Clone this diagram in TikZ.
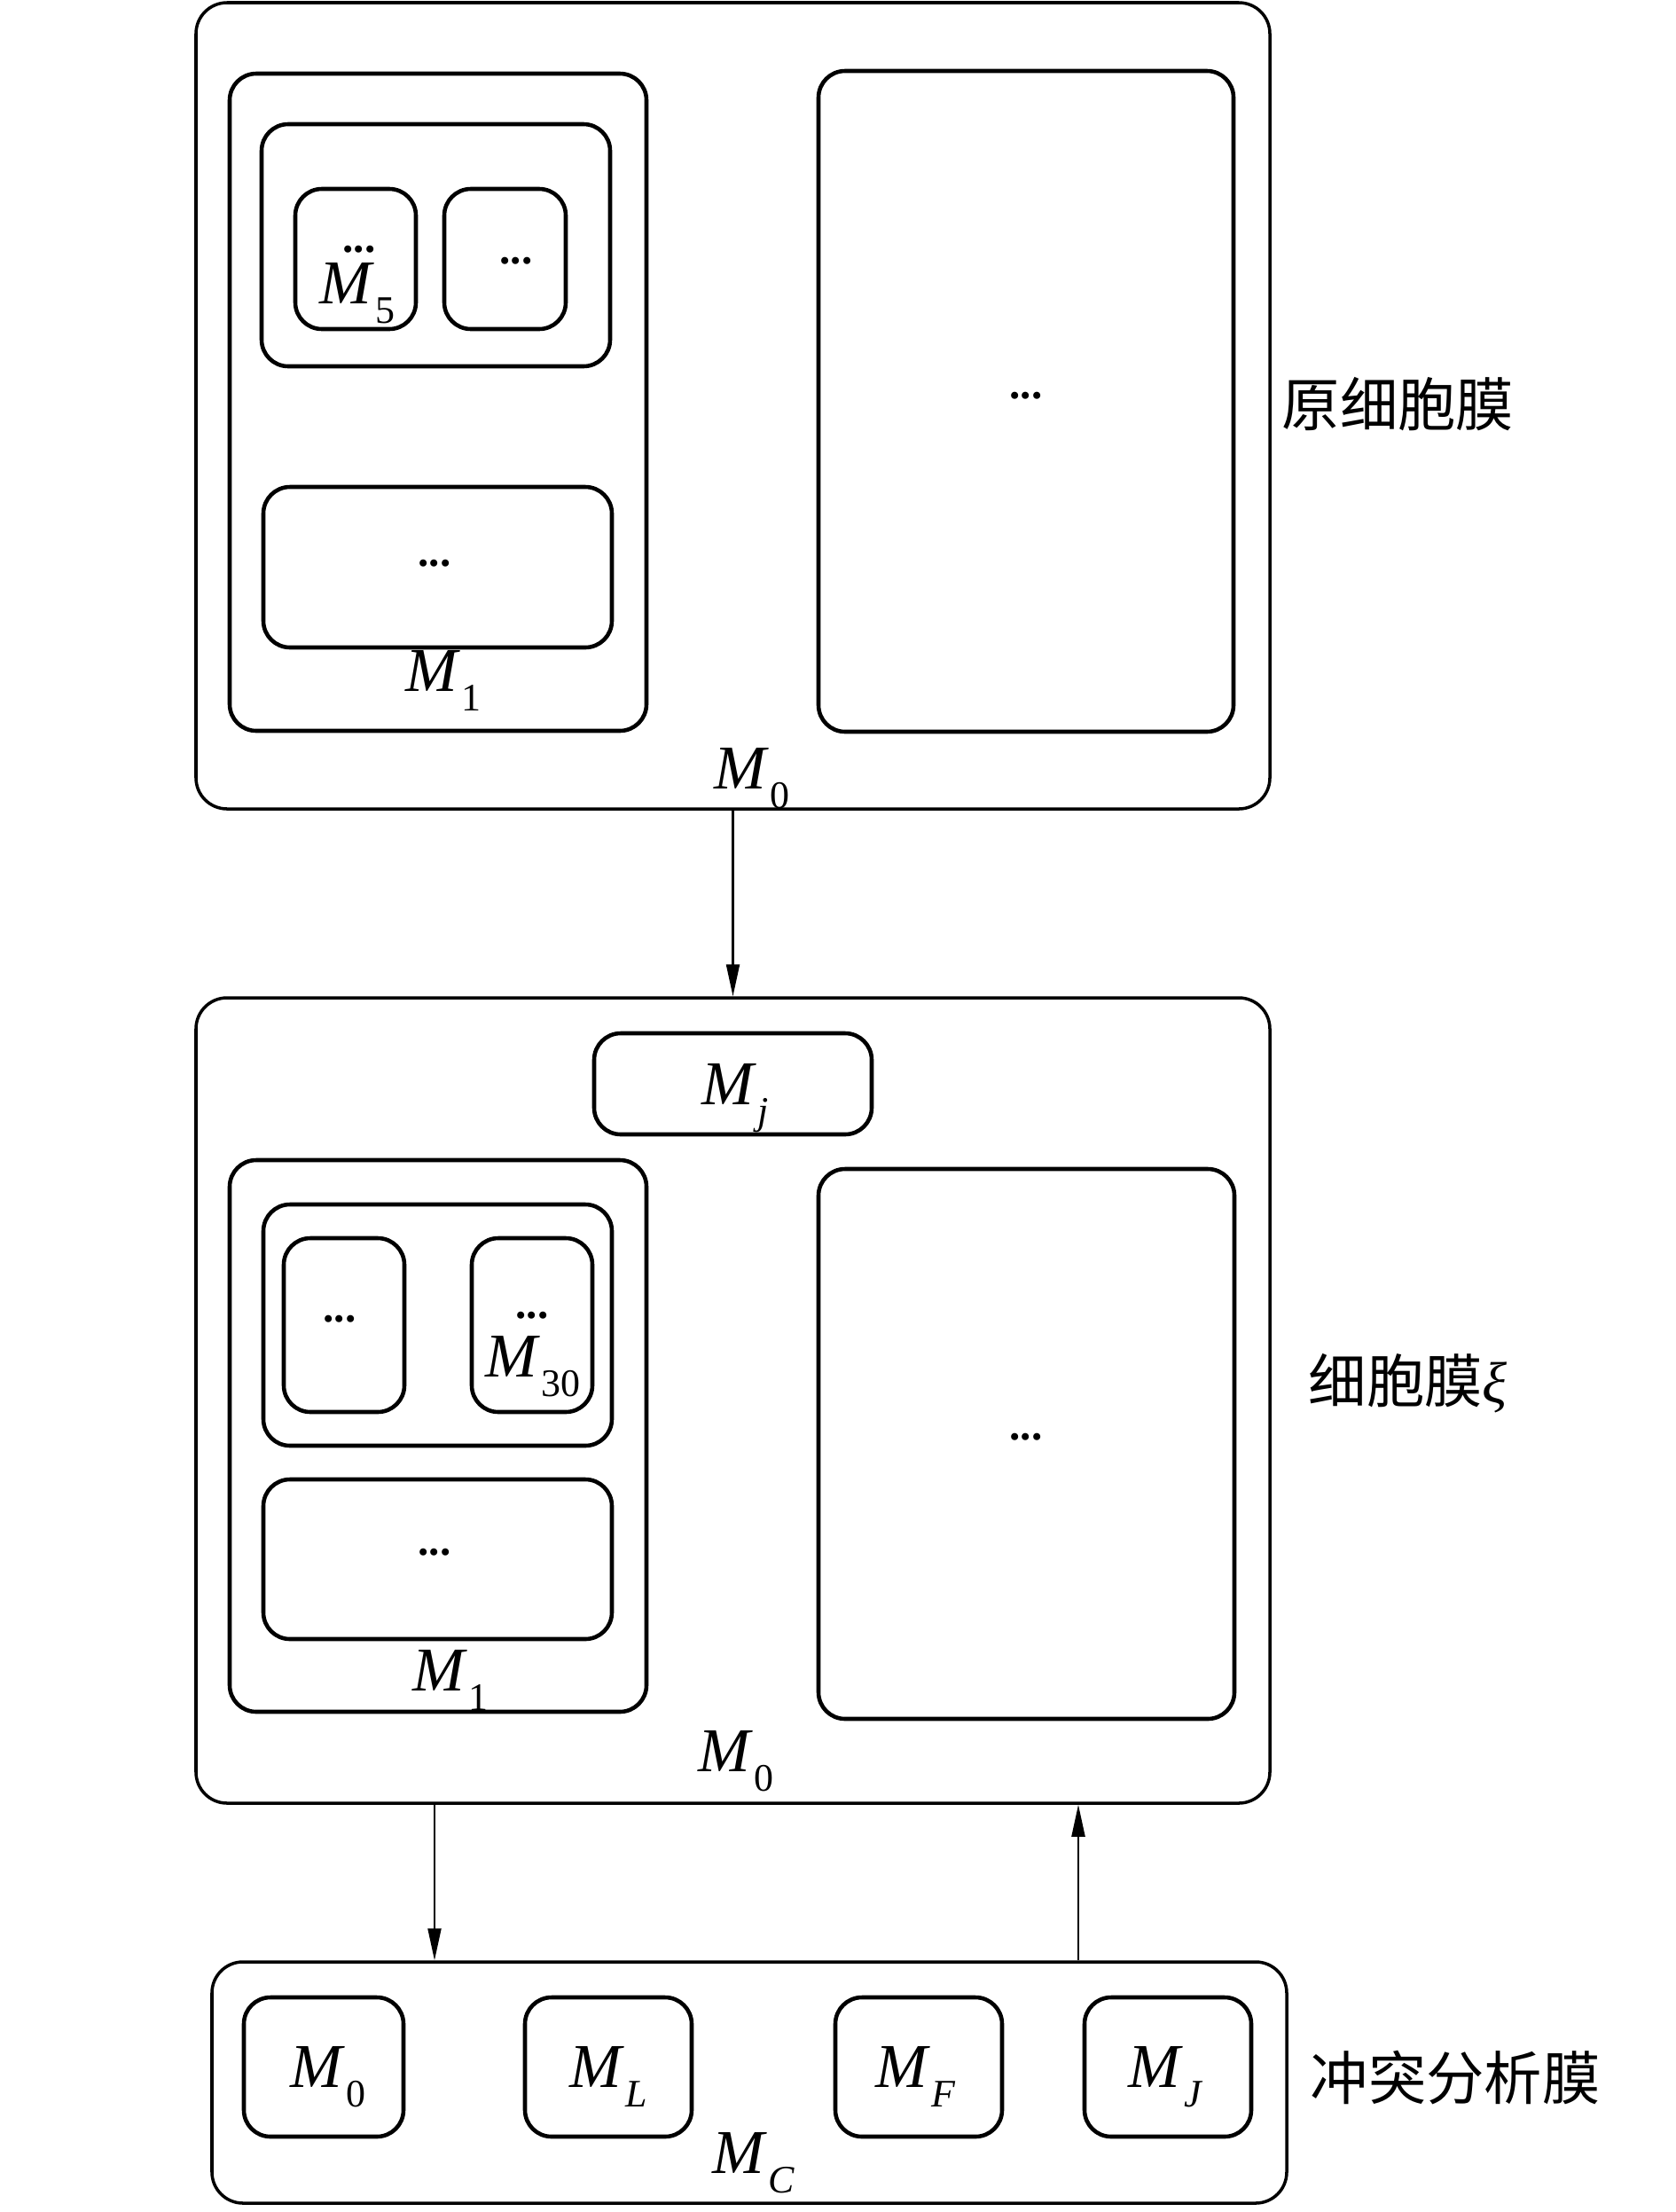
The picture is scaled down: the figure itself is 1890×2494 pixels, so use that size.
\documentclass[tikz,border=0pt]{standalone}
\usepackage{fontspec}
\setmainfont{Liberation Serif}
\newfontfamily\cjk{Noto Sans CJK SC}
\usetikzlibrary{arrows.meta}
\newcommand\Ms[1]{\textit{M}\kern0.3pt\raisebox{-6.5pt}{\fontsize{12.5}{12}\selectfont #1}}
\tikzset{
  sz/.style 2 args={minimum width=#1*0.1mm, minimum height=#2*0.1mm},
  bigbox/.style={draw, line width=1pt, rounded corners=3.5mm, inner sep=0},
  box/.style={draw, line width=1.3pt, rounded corners=3mm, inner sep=0},
  lab/.style={inner sep=0, anchor=base west, font=\fontsize{20}{20}\selectfont},
  dots/.style={inner sep=0, font=\fontsize{14}{14}\selectfont\bfseries},
  side/.style={inner sep=0, anchor=west, font=\cjk\fontsize{18.6}{18.6}\selectfont},
  arr/.style={line width=0.6pt, -{Triangle[length=3.6mm,width=1.5mm]}}
}
\begin{document}
\begin{tikzpicture}[x=0.1mm,y=-0.1mm]
\fill[white] (0,0) rectangle (1890,2494);
\useasboundingbox (0,0) rectangle (1890,2494);
% ---------- top: original membrane ----------
\node[bigbox, sz={1211}{909}] (top0) at (826.5,457.5) {};
\node[box, sz={470}{741}] (top1) at (494,453.5) {};
\node[box, sz={393}{273}] (top2) at (491.5,276.5) {};
\node[box, sz={136}{158}] (topA) at (401,292) {};
\node[box, sz={137}{158}] (topB) at (569.5,292) {};
\node[box, sz={393}{181}] (topL) at (493.5,639.5) {};
\node[box, sz={468}{745}] (topR) at (1157,452.5) {};
\node[dots] (dA) at (405,281) {...};
\node[lab] (lM5) at (360,342) {\Ms{5}};
\node[dots] (dB) at (582,294) {...};
\node[dots] (dL) at (490,635) {...};
\node[dots] (dR) at (1157,446) {...};
\node[lab] (lM1a) at (457,779) {\Ms{1}};
\node[lab] (lM0a) at (805,889) {\Ms{0}};
\node[side] (t1) at (1445,456) {原细胞膜};
% ---------- middle: membrane xi ----------
\node[bigbox, sz={1211}{908}] (mid0) at (826.5,1579) {};
\node[box, sz={313}{114}] (Mj) at (826.5,1222) {};
\node[lab] (lMj) at (791,1245) {\Ms{\textit{j}}};
\node[box, sz={470}{622}] (mid1) at (494,1619) {};
\node[box, sz={393}{272}] (mid2) at (493.5,1494) {};
\node[box, sz={136}{196}] (midA) at (388,1494) {};
\node[box, sz={136}{196}] (midB) at (600,1494) {};
\node[box, sz={393}{180}] (midL) at (493.5,1758) {};
\node[box, sz={469}{620}] (midR) at (1157.5,1628) {};
\node[dots] (dmA) at (383,1487) {...};
\node[dots] (dmB) at (600,1483) {...};
\node[lab] (lM30) at (547,1552) {\Ms{30}};
\node[dots] (dmL) at (490,1750) {...};
\node[dots] (dmR) at (1157,1620) {...};
\node[lab] (lM1b) at (465,1906) {\Ms{1}};
\node[lab] (lM0b) at (787,1997) {\Ms{0}};
\node[side] (t2) at (1475,1560) {细胞膜{\rmfamily\itshape ξ}};
% ---------- bottom: conflict analysis membrane ----------
\node[bigbox, sz={1212}{272}] (MC) at (845,2348) {};
\node[box, sz={180}{157}] (b0) at (365,2330.5) {};
\node[box, sz={188}{157}] (bL) at (686,2330.5) {};
\node[box, sz={188}{157}] (bF) at (1036,2330.5) {};
\node[box, sz={188}{157}] (bJ) at (1317,2330.5) {};
\node[lab] (lb0) at (327,2353) {\Ms{0}};
\node[lab] (lbL) at (642,2353) {\Ms{\textit{L}}};
\node[lab] (lbF) at (987,2353) {\Ms{\textit{F}}};
\node[lab] (lbJ) at (1272,2353) {\Ms{\textit{J}}};
\node[lab] (lMC) at (803,2450) {\Ms{\textit{C}}};
\node[side] (t3) at (1477,2342) {冲突分析膜};
% ---------- connectors ----------
\coordinate (pa) at (490,0);
\coordinate (pb) at (1216,0);
\draw[arr] (top0.south) -- (mid0.north);
\draw[arr] (mid0.south -| pa) -- (MC.north -| pa);
\draw[arr] (MC.north -| pb) -- (mid0.south -| pb);
\end{tikzpicture}
\end{document}
